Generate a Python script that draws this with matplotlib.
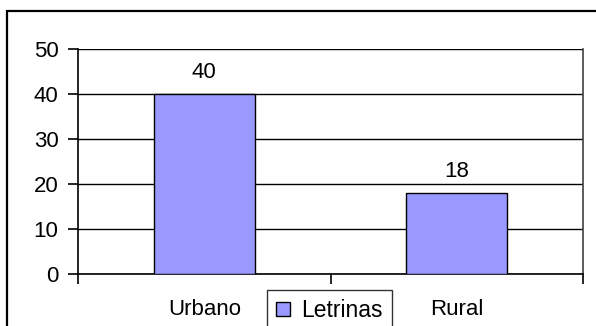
import matplotlib
matplotlib.use("Agg")
import matplotlib.pyplot as plt
from matplotlib.patches import Rectangle

categories = ["Urbano", "Rural"]
values = [40, 18]
series_name = "Letrinas"
yticks = [0, 10, 20, 30, 40, 50]

plt.rcParams['font.family'] = ['Liberation Sans', 'DejaVu Sans']
FS = 16
W, H = 596, 326
fig = plt.figure(figsize=(W / 100, H / 100), dpi=100)
fig.patch.set_facecolor('white')

# outer frame
fig.patches.append(Rectangle((7 / W, -0.1), 1.2, 1 - 11 / H + 0.1, transform=fig.transFigure,
                             fill=False, edgecolor='black', linewidth=1.6, clip_on=False))

ax = fig.add_axes([78 / W, 1 - 274 / H, (583 - 78) / W, (274 - 49) / H])
x = list(range(len(categories)))
bars = ax.bar(x, values, width=0.4, color='#9999FF', edgecolor='black', linewidth=1.0,
              label=series_name, zorder=3)
ax.set_xlim(-0.5, len(categories) - 0.5)
ax.set_ylim(0, 50)
ax.set_yticks(yticks)
ax.set_yticklabels([str(t) for t in yticks], fontsize=FS)
ax.yaxis.grid(True, color='black', linewidth=1.0, zorder=0)
ax.set_axisbelow(True)
ax.tick_params(axis='y', direction='out', length=7, width=1.2, pad=7)
ax.set_xticks([-0.5, 0.5, 1.5])
ax.set_xticklabels([])
ax.tick_params(axis='x', direction='out', length=7, width=1.2)
for xi, c in zip(x, categories):
    ax.text(xi, -9.1, c, ha='center', va='baseline', fontsize=FS)
for b, v in zip(bars, values):
    ax.text(b.get_x() + b.get_width() / 2, v + 3.6, str(v), ha='center', va='baseline', fontsize=FS)
ax.spines['left'].set_linewidth(1.2)
ax.spines['bottom'].set_linewidth(1.2)
ax.spines['top'].set_visible(False)
ax.spines['right'].set_color('#404040')
ax.spines['right'].set_linewidth(1.2)

leg = fig.legend(loc='upper left', bbox_to_anchor=(267 / W, 1 - 290 / H), fontsize=16.5,
                 frameon=True, fancybox=False, edgecolor='black', borderpad=0.4,
                 handlelength=0.6, handleheight=0.6, handletextpad=0.5, borderaxespad=0)
leg.get_frame().set_linewidth(1.0)

fig.savefig("out.png", dpi=100)
